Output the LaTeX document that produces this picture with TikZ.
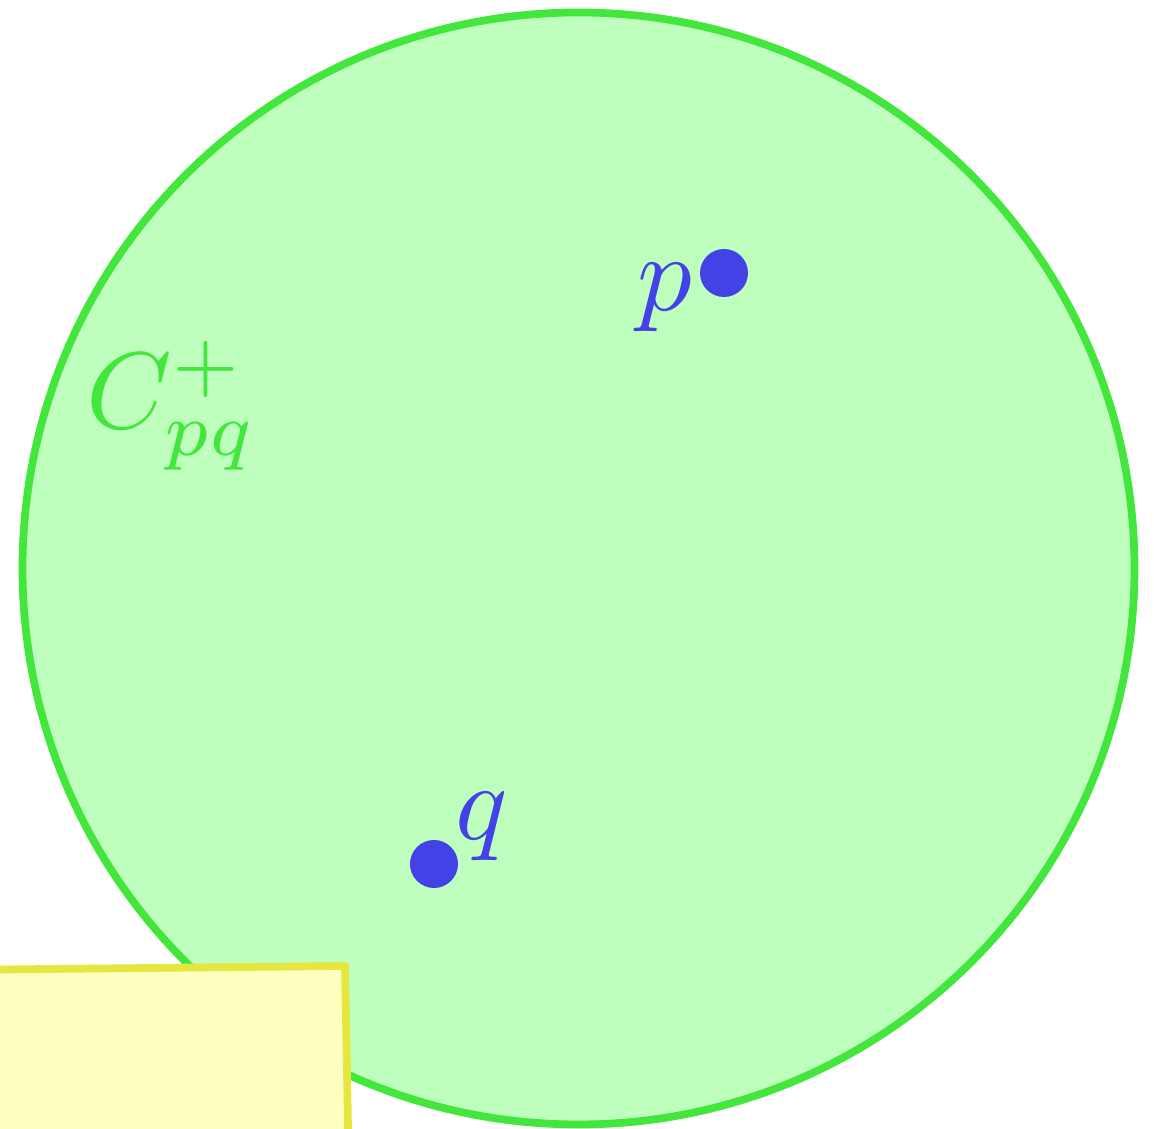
\documentclass[tikz,border=0pt]{standalone}
\usepackage{tikz}
\usetikzlibrary{positioning}
\definecolor{discfill}{RGB}{190,255,190}
\definecolor{discline}{RGB}{66,230,60}
\definecolor{ptblue}{RGB}{66,66,230}
\definecolor{boxfill}{RGB}{255,255,192}
\definecolor{boxline}{RGB}{230,230,64}
\begin{document}
\begin{tikzpicture}[
	disc/.style={circle,draw=discline,fill=discfill,line width=2.2pt,inner sep=0pt,minimum size=11.12cm},
	pt/.style={circle,fill=ptblue,inner sep=0pt,minimum size=0.48cm},
	ptlabel/.style={text=ptblue,inner sep=0pt,scale=3.1,transform shape},
	disclabel/.style={text=discline,inner sep=0pt,scale=3.1,transform shape},
	cover/.style={draw=boxline,fill=boxfill,line width=2.2pt,line join=round}]
	\useasboundingbox (0,0) rectangle (11.54,11.29);
	\clip (0,0) rectangle (11.54,11.29);
	% the disc
	\node [disc]		(C)		at (5.785,5.605)	{};
	\node [disclabel]	(Clab)	at (1.72,7.23)		{$C_{pq}^{+}$};
	% the two points
	\node [pt]			(p)		at (7.24,8.56)		{};
	\node [pt]			(q)		at (4.34,2.65)		{};
	\node [ptlabel]		(plab)	at (6.65,8.31)		{$p$};
	\node [ptlabel]		(qlab)	at (4.82,3.02)		{$q$};
	% the box in front
	\coordinate (b1) at (-0.5,1.59);
	\coordinate (b2) at (3.45,1.63);
	\coordinate (b3) at (3.49,-0.5);
	\coordinate (b4) at (-0.5,-0.5);
	\draw [cover] (b1) -- (b2) -- (b3) -- (b4) -- cycle;
\end{tikzpicture}
\end{document}
